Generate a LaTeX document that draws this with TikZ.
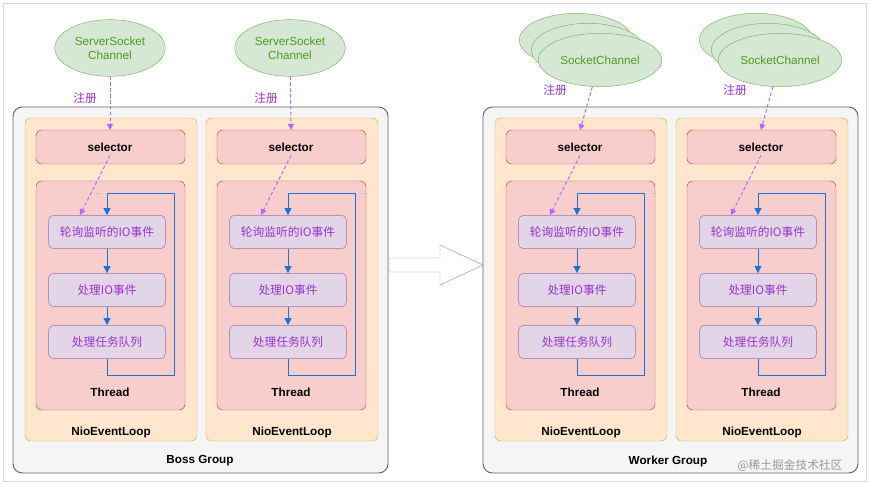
\documentclass[tikz,border=0pt]{standalone}
\usepackage{fontspec}
\setmainfont{Liberation Sans}
\newfontfamily\cjk{Noto Sans CJK SC}
\usetikzlibrary{shapes.geometric,arrows.meta}
\definecolor{elfill}{HTML}{D5E8D4}
\definecolor{elline}{HTML}{82B366}
\definecolor{eltext}{HTML}{4D9A1A}
\definecolor{loopfill}{HTML}{FFE6CC}
\definecolor{loopline}{HTML}{D6B656}
\definecolor{redfill}{HTML}{F8CECC}
\definecolor{redline}{HTML}{B85450}
\definecolor{purfill}{HTML}{E1D5E7}
\definecolor{purline}{HTML}{9673A6}
\definecolor{purtext}{HTML}{9933CC}
\definecolor{regline}{HTML}{B266FF}
\definecolor{flow}{HTML}{1A73D9}
\tikzset{
	group/.style={draw=black!60,fill=black!4,rounded corners=8pt,line width=0.8pt},
	eloop/.style={draw=loopline,fill=loopfill,rounded corners=5pt},
	redbox/.style={draw=redline,fill=redfill,rounded corners=5pt},
	stage/.style={draw=purline,fill=purfill,rounded corners=4pt,minimum width=3.5cm,minimum height=1cm,text=purtext,font=\cjk},
	chan/.style={ellipse,draw=elline,fill=elfill,text=eltext,align=center},
	reg/.style={-{Triangle[length=5pt,width=5pt]},regline,densely dashed,thick},
	next/.style={-{Triangle[length=6pt,width=6pt]},flow,thick},
	lbl/.style={font=\bfseries}
}
\begin{document}
\begin{tikzpicture}[x=0.03cm,y=-0.03cm]
	\useasboundingbox (0,0) rectangle (869,484);
	\draw[black!15] (3,3) rectangle (866,481);
	% groups
	\draw[group] (13,107) rectangle (388,473);
	\node[lbl] (boss) at (200,461) {Boss Group};
	\draw[group] (483,107) rectangle (858,473);
	\node[lbl] (worker) at (668,461) {Worker Group};
	% hollow arrow between groups
	\draw[black!40,fill=white] (389,258) -- (440,258) -- (440,245) -- (483,265)
		-- (440,285) -- (440,272) -- (389,272) -- cycle;
	% event loops
	\foreach \n/\x in {1/0,2/181,3/470,4/651}{
		\draw[eloop] (25+\x,118) rectangle (197+\x,441);
		\node[lbl] (nio\n) at (111+\x,432) {NioEventLoop};
		\draw[redbox] (36+\x,130) rectangle (185+\x,164);
		\node[lbl] (sel\n) at (110+\x,147) {selector};
		\draw[redbox] (36+\x,181) rectangle (185+\x,410);
		\node[lbl] (thr\n) at (110+\x,392) {Thread};
		\node[stage] (poll\n) at (107+\x,232) {轮询监听的IO事件};
		\node[stage] (io\n) at (107+\x,290) {处理IO事件};
		\node[stage] (task\n) at (107+\x,342) {处理任务队列};
		\coordinate (top\n) at (110+\x,130);
		\coordinate (hit\n) at (80+\x,215);
		\draw[next] (poll\n) -- (io\n);
		\draw[next] (io\n) -- (task\n);
		\draw[next] (task\n.south) -- ++(0,17) -| (174+\x,193) -| (poll\n.north);
		\draw[reg] (sel\n.south) -- (hit\n);
	}
	% boss channels
	\node[chan,minimum width=3cm,minimum height=1.7cm] (ssc1) at (110,48) {ServerSocket\\Channel};
	\node[chan,minimum width=3cm,minimum height=1.7cm] (ssc2) at (290,48) {ServerSocket\\Channel};
	\draw[reg] (ssc1) -- (top1);
	\draw[reg] (ssc2) -- (top2);
	\node[text=purtext,font=\cjk] (r1) at (85,98) {注册};
	\node[text=purtext,font=\cjk] (r2) at (266,98) {注册};
	% worker channels
	\foreach \n/\x in {3/600,4/780}{
		\node[chan,minimum width=3.4cm,minimum height=1.6cm] at (\x-24,40) {};
		\node[chan,minimum width=3.4cm,minimum height=1.6cm] at (\x-12,50) {};
		\node[chan,minimum width=3.4cm,minimum height=1.6cm] (sc\n) at (\x,60) {SocketChannel};
	}
	\draw[reg] (sc3) -- (top3);
	\draw[reg] (sc4) -- (top4);
	\node[text=purtext,font=\cjk] (r3) at (555,90) {注册};
	\node[text=purtext,font=\cjk] (r4) at (735,90) {注册};
	\node[text=black!40,font=\cjk] (mark) at (790,466) {@稀土掘金技术社区};
\end{tikzpicture}
\end{document}
